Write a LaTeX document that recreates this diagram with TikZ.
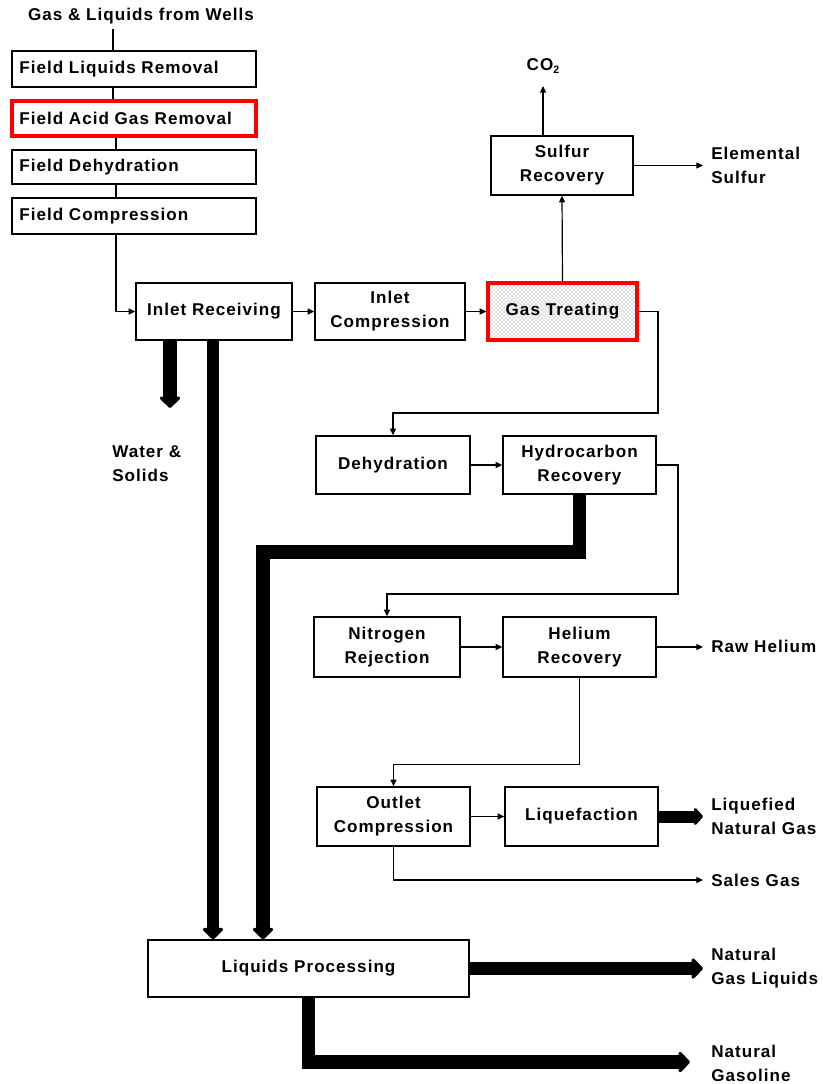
\documentclass[tikz,border=0pt]{standalone}
\usepackage{fontspec}
\setmainfont{Liberation Sans}[LetterSpace=6]
\usetikzlibrary{arrows.meta,patterns,calc}
\pgfdeclarelayer{background}
\pgfsetlayers{background,main}
\begin{document}
\begin{tikzpicture}[x=0.75pt,y=-0.75pt,
  font=\fontsize{12.8}{18}\selectfont\bfseries,
  box/.style={draw,line width=1pt,fill=white,inner sep=0pt,align=center},
  colbox/.style={box,minimum width=183pt,text width=172pt,inner xsep=5.5pt,align=left},
  redbox/.style={draw=red,line width=2.4pt},
  flow/.style={line width=0.9pt,-{Triangle[length=5pt,width=4.5pt]}},
  plain/.style={line width=0.9pt},
  heavy/.style={line width=10pt,line join=miter,-{Triangle[length=9pt,width=18pt,round]}},
  lbl/.style={anchor=west,align=left,inner sep=0pt}]
\useasboundingbox (0,0) rectangle (822,1084);

% title and left column
\node (title) at (141,16) {Gas \& Liquids from Wells};
\node[colbox,minimum height=27pt] (FLR) at (134,69) {Field Liquids Removal};
\node[colbox,redbox,minimum height=26.25pt] (FAGR) at (134,118.5) {Field Acid Gas Removal};
\node[colbox,minimum height=25.5pt] (FD) at (134,167) {Field Dehydration};
\node[colbox,minimum height=27pt] (FC) at (134,216) {Field Compression};

% main row
\node[box,minimum width=117pt,minimum height=42.75pt] (IR) at (214,311.5) {Inlet Receiving};
\node[box,minimum width=112.5pt,minimum height=42.75pt] (IC) at (390,311.5) {Inlet\\Compression};
\node[box,redbox,minimum width=111.75pt,minimum height=42.75pt,
      preaction={fill=white},pattern=crosshatch dots,pattern color=black!55] (GT) at (562.5,311.5) {Gas Treating};
\node[box,minimum width=106.5pt,minimum height=44.25pt] (SR) at (562,165.5) {Sulfur\\Recovery};

\node[box,minimum width=115.5pt,minimum height=43.5pt] (DH) at (393,465) {Dehydration};
\node[box,minimum width=114.75pt,minimum height=43.5pt] (HCR) at (579.5,465) {Hydrocarbon\\Recovery};
\node[box,minimum width=109.5pt,minimum height=45pt] (NR) at (387,647) {Nitrogen\\Rejection};
\node[box,minimum width=114.75pt,minimum height=45pt] (HeR) at (579.5,647) {Helium\\Recovery};
\node[box,minimum width=114.75pt,minimum height=44.25pt] (OC) at (393.5,816.5) {Outlet\\Compression};
\node[box,minimum width=114.75pt,minimum height=44.25pt] (LQ) at (581.5,816.5) {Liquefaction};
\node[box,minimum width=240.75pt,minimum height=42.75pt] (LP) at (308.5,968.5) {Liquids Processing};

% labels
\node (CO2) at (543,66) {CO{\fontsize{8}{8}\selectfont\raisebox{-2pt}{2}}};
\node[lbl] (ES) at (711,165) {Elemental\\Sulfur};
\node[lbl] (WS) at (112,464) {Water \&\\Solids};
\node[lbl] (RH) at (711,646) {Raw Helium};
\node[lbl] (LNG) at (711,816) {Liquefied\\Natural Gas};
\node[lbl] (SG) at (711,880) {Sales Gas};
\node[lbl] (NGL) at (711,968) {Natural\\Gas Liquids};
\node[lbl] (NG) at (711,1063) {Natural\\Gasoline};

% helper coordinates
\coordinate (x113) at (113,0);
\coordinate (x116) at (116,0);
\coordinate (co2end) at (543,86);
\coordinate (esend) at (703,0);
\coordinate (wsend) at (170,408);
\coordinate (x213) at (213,0);
\coordinate (hcbend) at (263,552);
\coordinate (gtbend) at (658,413);
\coordinate (hcrbend) at (678,594);
\coordinate (sgend) at (703,880);
\coordinate (ngend) at (690,1062);

\begin{pgfonlayer}{background}
\draw[plain] (x113 |- title.south) -- (x113 |- FLR.north);
\draw[plain] (x113 |- FLR.south) -- (x113 |- FAGR.north);
\draw[plain] (x116 |- FAGR.south) -- (x116 |- FD.north);
\draw[plain] (x116 |- FD.south) -- (x116 |- FC.north);
\draw[flow] (x116 |- FC.south) |- (IR.west);
\draw[flow] (IR.east) -- (IC.west);
\draw[flow] (IC.east) -- (GT.west);
\draw[flow] (GT.north) -- (SR.south);
\draw[flow] (co2end |- SR.north) -- (co2end);
\draw[flow] (SR.east) -- (esend |- SR.east);
\draw[flow] (GT.east) -| (gtbend) -| (DH.north);
\draw[flow] (DH.east) -- (HCR.west);
\draw[flow] (HCR.east) -| (hcrbend) -| (NR.north);
\draw[flow] (NR.east) -- (HeR.west);
\draw[flow] (HeR.east) -- (esend |- HeR.east);
\draw[flow] (HeR.south) |- ($(OC.north)+(0,-22)$) -- (OC.north);
\draw[flow] (OC.east) -- (LQ.west);
\draw[flow] (OC.south) |- (sgend);
\draw[heavy,line width=9pt,-{Triangle[length=7pt,width=15pt,round]}] ([xshift=-4pt]LQ.east) -- (esend |- LQ.east);
\draw[heavy] (wsend |- IR.south) -- (wsend);
\draw[heavy,line width=9pt] (x213 |- IR.south) -- (x213 |- LP.north);
\draw[heavy] (HCR.south) |- (hcbend) -- (hcbend |- LP.north);
\draw[heavy] (LP.east) -- (esend |- LP.east);
\draw[heavy] (LP.south) |- (ngend);
\end{pgfonlayer}
\end{tikzpicture}
\end{document}
